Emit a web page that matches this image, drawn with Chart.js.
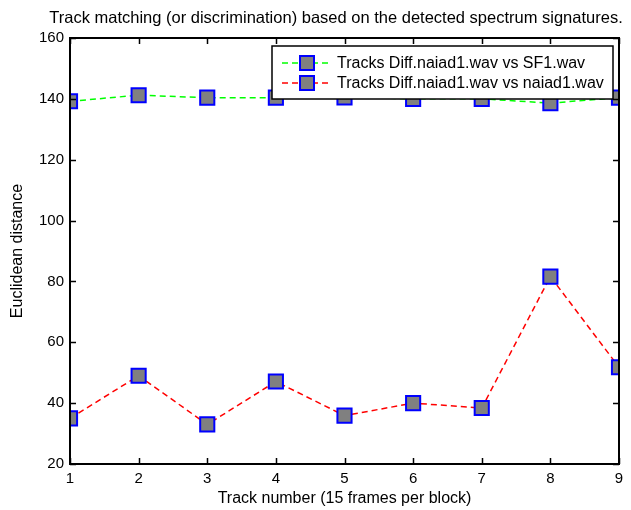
<!DOCTYPE html>
<html>
<head>
<meta charset="utf-8">
<script src="https://cdn.jsdelivr.net/npm/chart.js@4/dist/chart.umd.min.js"></script>
<style>
  html, body { margin: 0; padding: 0; background: #fff; }
  #wrap { width: 631px; height: 510px; position: relative; }
</style>
</head>
<body>
<div id="wrap"><canvas id="c" width="631" height="510"></canvas></div>
<script>
// Track numbers along the x axis
const tracks = [1, 2, 3, 4, 5, 6, 7, 8, 9];
// Euclidean distance of each track block
const diffVsSF1 = [139.2, 141.2, 140.4, 140.4, 140.5, 140.0, 140.0, 138.6, 140.4];
const diffVsNaiad1 = [35.0, 49.0, 33.0, 47.1, 35.9, 40.0, 38.4, 81.6, 51.8];
const seriesLabels = ['Tracks Diff.naiad1.wav vs SF1.wav', 'Tracks Diff.naiad1.wav vs naiad1.wav'];
const yTicks = [20, 40, 60, 80, 100, 120, 140, 160];

const chartTitle = 'Track matching (or discrimination) based on the detected spectrum signatures.';
const FONT = "'Liberation Sans', Arial, sans-serif";

function toPoints(vals) {
  return vals.map((v, i) => ({ x: tracks[i], y: v }));
}

const markerStyle = {
  pointStyle: 'rect',
  pointRadius: 10,
  pointHoverRadius: 10,
  pointBackgroundColor: '#808080',
  pointBorderColor: '#0000ff',
  pointBorderWidth: 2
};

// Box frame with inward ticks on all four sides, plus the title
const framePlugin = {
  id: 'frame',
  afterDatasetsDraw(chart) {
    const { ctx, chartArea: a, scales: { x, y } } = chart;
    const tl = 6;
    ctx.save();
    ctx.strokeStyle = '#000';
    ctx.lineWidth = 1.5;
    ctx.beginPath();
    x.ticks.forEach(t => {
      const px = Math.round(x.getPixelForValue(t.value)) + 0.5;
      ctx.moveTo(px, a.bottom); ctx.lineTo(px, a.bottom - tl);
      ctx.moveTo(px, a.top); ctx.lineTo(px, a.top + tl);
    });
    y.ticks.forEach(t => {
      const py = Math.round(y.getPixelForValue(t.value)) + 0.5;
      ctx.moveTo(a.left, py); ctx.lineTo(a.left + tl, py);
      ctx.moveTo(a.right, py); ctx.lineTo(a.right - tl, py);
    });
    ctx.stroke();
    ctx.lineWidth = 2;
    ctx.strokeRect(a.left, a.top, a.right - a.left, a.bottom - a.top);
    ctx.restore();
  },
  afterDraw(chart) {
    const { ctx } = chart;
    ctx.save();
    ctx.fillStyle = '#000';
    ctx.font = '16.5px ' + FONT;
    ctx.textAlign = 'center';
    ctx.textBaseline = 'middle';
    ctx.fillText(chartTitle, 336, 18);
    ctx.restore();
  }
};

// Boxed legend inside the plot, drawn above the data lines
const boxLegendPlugin = {
  id: 'boxLegend',
  afterDraw(chart) {
    const { ctx } = chart;
    const box = { left: 272, top: 46, right: 613, bottom: 99 };
    ctx.save();
    ctx.fillStyle = '#fff';
    ctx.fillRect(box.left, box.top, box.right - box.left, box.bottom - box.top);
    ctx.strokeStyle = '#000';
    ctx.lineWidth = 1.5;
    ctx.strokeRect(box.left, box.top, box.right - box.left, box.bottom - box.top);
    chart.data.datasets.forEach((ds, i) => {
      const cy = 63 + i * 20;
      ctx.strokeStyle = ds.borderColor;
      ctx.lineWidth = ds.borderWidth;
      ctx.setLineDash(ds.borderDash);
      ctx.beginPath();
      ctx.moveTo(282, cy); ctx.lineTo(332, cy);
      ctx.stroke();
      ctx.setLineDash([]);
      const s = 14;
      ctx.fillStyle = ds.pointBackgroundColor;
      ctx.fillRect(307 - s / 2, cy - s / 2, s, s);
      ctx.strokeStyle = ds.pointBorderColor;
      ctx.lineWidth = ds.pointBorderWidth;
      ctx.strokeRect(307 - s / 2, cy - s / 2, s, s);
      ctx.fillStyle = '#000';
      ctx.font = '16px ' + FONT;
      ctx.textAlign = 'left';
      ctx.textBaseline = 'middle';
      ctx.fillText(ds.label, 337, cy + 1);
    });
    ctx.restore();
  }
};

new Chart(document.getElementById('c'), {
  type: 'line',
  data: {
    datasets: [
      Object.assign({
        label: seriesLabels[0],
        data: toPoints(diffVsSF1),
        borderColor: '#00ff00',
        borderWidth: 1.5,
        borderDash: [6, 4]
      }, markerStyle),
      Object.assign({
        label: seriesLabels[1],
        data: toPoints(diffVsNaiad1),
        borderColor: '#ff0000',
        borderWidth: 1.5,
        borderDash: [6, 4]
      }, markerStyle)
    ]
  },
  options: {
    responsive: false,
    animation: false,
    events: [],
    layout: { padding: { top: 38, right: 11, left: 0, bottom: 0 } },
    plugins: {
      legend: { display: false },
      tooltip: { enabled: false },
      title: { display: false }
    },
    scales: {
      x: {
        type: 'linear',
        min: 1,
        max: 9,
        grid: { display: false, drawTicks: false },
        border: { display: false },
        ticks: {
          stepSize: 1,
          padding: 6,
          color: '#000',
          font: { family: FONT, size: 15 }
        },
        title: {
          display: true,
          text: 'Track number (15 frames per block)',
          color: '#000',
          font: { family: FONT, size: 16 },
          padding: { top: 0, bottom: 1.5 }
        },
        afterFit(scale) { scale.height = 46; }
      },
      y: {
        type: 'linear',
        min: yTicks[0],
        max: yTicks[yTicks.length - 1],
        grid: { display: false, drawTicks: false },
        border: { display: false },
        afterBuildTicks(scale) { scale.ticks = yTicks.map(v => ({ value: v })); },
        ticks: {
          padding: 6,
          color: '#000',
          font: { family: FONT, size: 15 }
        },
        title: {
          display: true,
          text: 'Euclidean distance',
          color: '#000',
          font: { family: FONT, size: 16 },
          padding: { top: 7.5, bottom: 0 }
        },
        afterFit(scale) { scale.width = 70; }
      }
    }
  },
  plugins: [framePlugin, boxLegendPlugin]
});
</script>
</body>
</html>
